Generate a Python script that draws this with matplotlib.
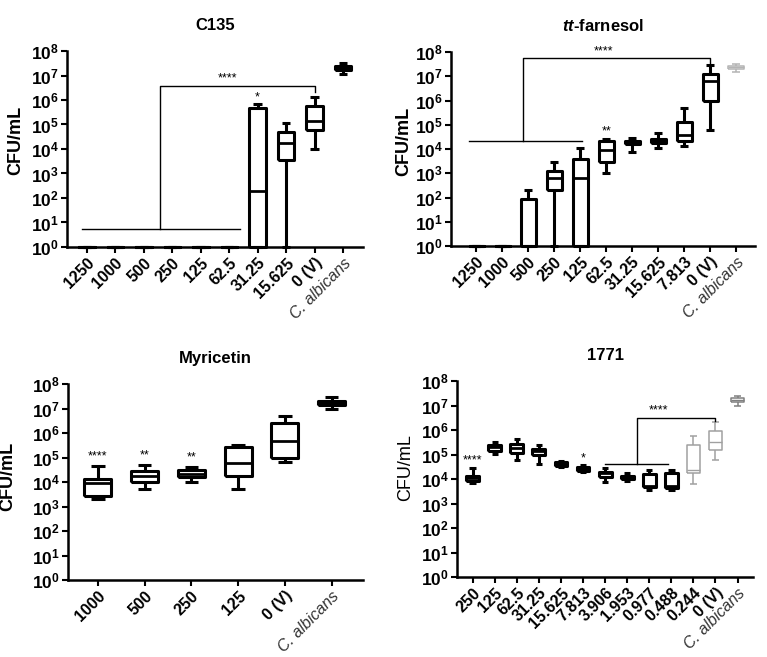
import numpy as np
import matplotlib.pyplot as plt

plt.rcParams['font.family'] = ['Liberation Sans', 'DejaVu Sans']
plt.rcParams['mathtext.fontset'] = 'custom'
plt.rcParams['mathtext.rm'] = 'Liberation Sans'
plt.rcParams['mathtext.bf'] = 'Liberation Sans:bold'
plt.rcParams['mathtext.bfit'] = 'Liberation Sans:bold:italic'

# box stats per group: whislo, q1, median, q3, whishi (CFU/mL)
c135_labels = ['1250', '1000', '500', '250', '125', '62.5', '31.25', '15.625', '0 (V)', 'C. albicans']
c135_stats = [
    [1, 1, 1, 1, 1],
    [1, 1, 1, 1, 1],
    [1, 1, 1, 1, 1],
    [1, 1, 1, 1, 1],
    [1, 1, 1, 1, 1],
    [1, 1, 1, 1, 1],
    [1, 1, 1.9e2, 4.6e5, 6.8e5],
    [1, 3.5e3, 1.7e4, 5.0e4, 1.2e5],
    [9.8e3, 5.9e4, 1.4e5, 5.6e5, 1.3e6],
    [1.2e7, 1.6e7, 1.95e7, 2.5e7, 3.2e7],
]

farn_labels = ['1250', '1000', '500', '250', '125', '62.5', '31.25', '15.625', '7.813', '0 (V)', 'C. albicans']
farn_stats = [
    [1, 1, 1, 1, 1],
    [1, 1, 1, 1, 1],
    [1, 1, 1, 9.0e1, 1.95e2],
    [1, 2.0e2, 6.3e2, 1.25e3, 2.8e3],
    [1, 1, 6.3e2, 4.0e3, 1.1e4],
    [9.8e2, 3.0e3, 9.1e3, 2.1e4, 2.6e4],
    [7.8e3, 1.65e4, 2.0e4, 2.2e4, 2.9e4],
    [1.1e4, 1.7e4, 2.1e4, 2.6e4, 4.5e4],
    [1.3e4, 2.2e4, 3.7e4, 1.25e5, 5.1e5],
    [5.8e4, 1.0e6, 6.6e6, 1.2e7, 2.9e7],
    [1.5e7, 1.95e7, 2.4e7, 2.7e7, 3.2e7],
]

myr_labels = ['1000', '500', '250', '125', '0 (V)', 'C. albicans']
myr_stats = [
    [2.0e3, 2.7e3, 8.9e3, 1.3e4, 4.5e4],
    [5.0e3, 1.0e4, 1.7e4, 2.8e4, 4.9e4],
    [9.8e3, 1.55e4, 2.2e4, 3.1e4, 4.0e4],
    [5.1e3, 1.7e4, 5.8e4, 2.6e5, 3.2e5],
    [6.8e4, 1.0e5, 4.5e5, 2.5e6, 4.9e6],
    [9.5e6, 1.45e7, 1.75e7, 2.05e7, 2.9e7],
]

m1771_labels = ['250', '125', '62.5', '31.25', '15.625', '7.813', '3.906', '1.953',
                '0.977', '0.488', '0.244', '0 (V)', 'C. albicans']
m1771_stats = [
    [6.6e3, 8.1e3, 1.05e4, 1.3e4, 2.9e4],
    [1.05e5, 1.4e5, 1.95e5, 2.4e5, 3.3e5],
    [5.9e4, 1.1e5, 1.8e5, 2.7e5, 4.3e5],
    [4.1e4, 9.5e4, 1.4e5, 1.65e5, 2.4e5],
    [3.2e4, 3.5e4, 4.2e4, 4.9e4, 5.5e4],
    [1.9e4, 2.1e4, 2.6e4, 3.2e4, 3.7e4],
    [7.6e3, 1.2e4, 1.7e4, 1.95e4, 2.7e4],
    [8.1e3, 1.0e4, 1.15e4, 1.3e4, 1.7e4],
    [3.6e3, 4.8e3, 5.2e3, 1.6e4, 2.3e4],
    [3.6e3, 4.3e3, 5.0e3, 1.7e4, 2.4e4],
    [6.0e3, 1.7e4, 2.3e4, 2.4e5, 5.6e5],
    [5.9e4, 1.5e5, 3.1e5, 9.1e5, 2.2e6],
    [9.8e6, 1.35e7, 1.65e7, 1.95e7, 2.5e7],
]
m1771_colors = ['black'] * 10 + ['#a0a0a0', '#a0a0a0', '#808080']
farn_colors = ['black'] * 10 + ['#b4b4b4']


def draw_panel(ax, labels, stats, colors, title, xlim, ylab_xy, ylab_weight='bold'):
    for i, (s, c) in enumerate(zip(stats, colors)):
        lw = 2.2 if c == 'black' else 1.1
        d = dict(whislo=s[0], q1=s[1], med=s[2], q3=s[3], whishi=s[4], fliers=[])
        props = dict(color=c, linewidth=lw, solid_capstyle='butt')
        art = ax.bxp([d], positions=[i], widths=0.58, showfliers=False,
                     boxprops=props, whiskerprops=props, capprops=props,
                     medianprops=dict(color=c, linewidth=lw * 0.9))
        for group in art.values():
            for a in group:
                a.set_clip_on(False)
    ax.set_yscale('log')
    ax.set_ylim(1, 1e8)
    ax.set_xlim(*xlim)
    ax.set_yticks([10.0 ** k for k in range(9)])
    ax.set_yticklabels([r'$\mathbf{10^{%d}}$' % k for k in range(9)], fontsize=12.5)
    ax.yaxis.set_minor_locator(plt.NullLocator())
    ax.set_xticks(range(len(labels)))
    ax.set_xticklabels(labels, rotation=45, ha='right', rotation_mode='anchor',
                       fontsize=11.5, fontweight='bold')
    lab = ax.get_xticklabels()[-1]
    lab.set_fontstyle('italic')
    lab.set_fontweight('normal')
    lab.set_color('#333333')
    for side in ['top', 'right']:
        ax.spines[side].set_visible(False)
    for side in ['left', 'bottom']:
        ax.spines[side].set_linewidth(1.8)
    ax.tick_params(axis='y', direction='out', length=4, width=1.5, pad=2)
    ax.tick_params(axis='x', direction='out', length=4, width=1.5, pad=2)
    ax.set_ylabel('CFU/mL', fontsize=13, fontweight=ylab_weight)
    ax.yaxis.set_label_coords(*ylab_xy)
    ax.set_title(title, fontsize=12, fontweight='bold', pad=15)


def bracket(ax, lo_x0, lo_x1, lo_y, vx, top_y, rx, drop_y, stars, sx, sy):
    kw = dict(color='black', linewidth=1.0, clip_on=False)
    ax.plot([lo_x0, lo_x1], [lo_y, lo_y], **kw)
    ax.plot([vx, vx, rx, rx], [lo_y, top_y, top_y, drop_y], **kw)
    ax.text(sx, sy, stars, ha='center', va='bottom', fontsize=9)


fig = plt.figure(figsize=(7.67, 6.57), dpi=100)

ax1 = fig.add_axes([67 / 767, 1 - 247 / 657, 296 / 767, 196 / 657])
draw_panel(ax1, c135_labels, c135_stats, ['black'] * 10, 'C135', (-0.69, 9.7), (-0.145, 0.546))
bracket(ax1, -0.18, 5.38, 5.5, 2.57, 3.7e6, 8, 2.2e6, '****', 4.95, 4.2e6)
ax1.text(6, 7.5e5, '*', ha='center', va='bottom', fontsize=9)

ax2 = fig.add_axes([451 / 767, 1 - 246 / 657, 304 / 767, 194 / 657])
draw_panel(ax2, farn_labels, farn_stats, farn_colors, r'$\mathbfit{tt}$-farnesol', (-0.97, 10.73), (-0.128, 0.54))
bracket(ax2, -0.26, 4.07, 2.2e4, 1.8, 5.9e7, 9, 3.3e7, '****', 4.9, 6.2e7)
ax2.text(5, 2.9e4, '**', ha='center', va='bottom', fontsize=9)

ax3 = fig.add_axes([68 / 767, 1 - 580 / 657, 295 / 767, 196 / 657])
draw_panel(ax3, myr_labels, myr_stats, ['black'] * 6, 'Myricetin', (-0.64, 5.67), (-0.174, 0.527))
for i, st in zip([0, 1, 2], ['****', '**', '**']):
    ax3.text(i, myr_stats[i][4] * 1.4, st, ha='center', va='bottom', fontsize=9)

ax4 = fig.add_axes([457 / 767, 1 - 577 / 657, 296 / 767, 196 / 657])
draw_panel(ax4, m1771_labels, m1771_stats, m1771_colors, '1771', (-0.71, 12.7), (-0.145, 0.56),
           ylab_weight='normal')
bracket(ax4, 6.0, 8.83, 4.1e4, 7.43, 3.2e6, 11, 2.4e6, '****', 8.4, 3.6e6)
ax4.text(0, 3.3e4, '****', ha='center', va='bottom', fontsize=9)
ax4.text(5, 4.1e4, '*', ha='center', va='bottom', fontsize=9)

fig.savefig('out.png', dpi=100)
